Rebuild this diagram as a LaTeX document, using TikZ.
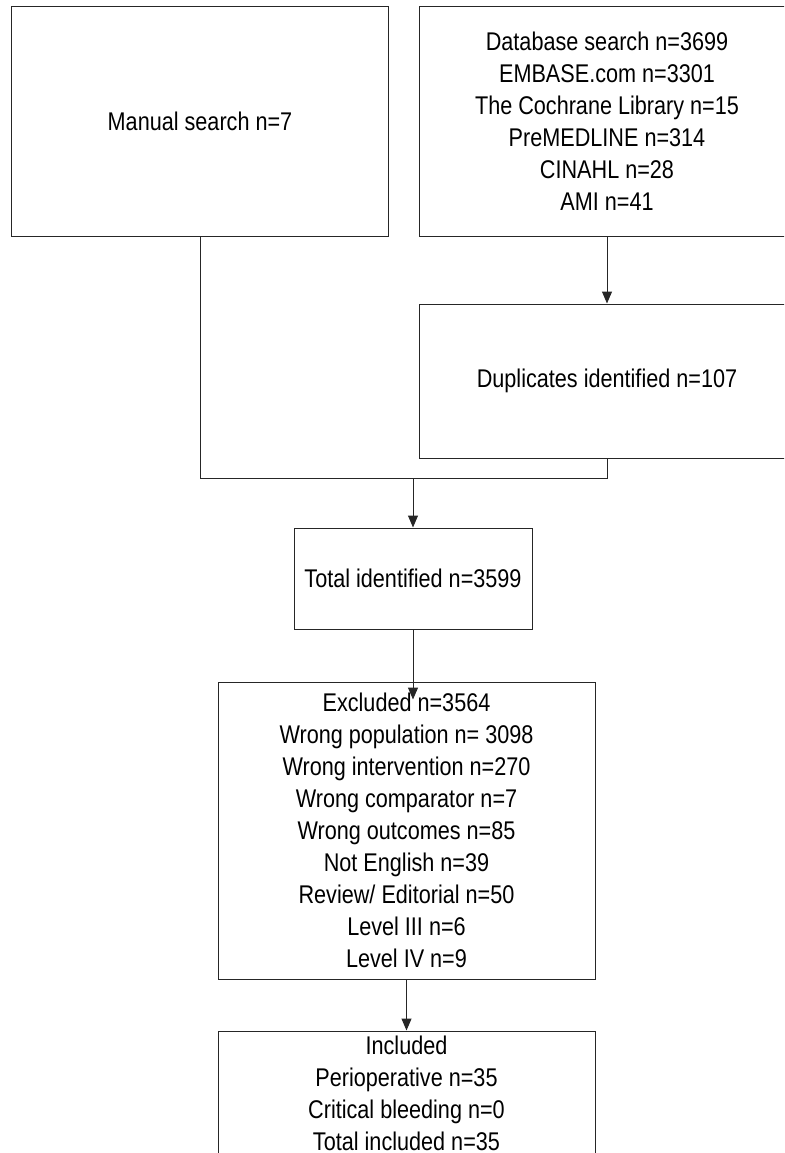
\documentclass[tikz,border=0pt]{standalone}
\usepackage{fontspec}
\setmainfont{Liberation Sans}[FakeStretch=0.845]
\usetikzlibrary{arrows.meta}
\begin{document}
\begin{tikzpicture}[x=1pt,y=-1pt,
  box/.style={draw=black!85, line width=1pt, rectangle, inner sep=0pt, align=center,
    font=\fontsize{25.6}{32}\selectfont},
  conn/.style={draw=black!85, line width=1pt},
  arr/.style={conn, -{Triangle[length=12pt,width=10pt]}}]
\useasboundingbox (0,0) rectangle (784,1153);
\clip (0,0) rectangle (784,1153);
\node[box, minimum width=377pt, minimum height=229pt] (manual) at (200,121.5) {Manual search n=7};
\node[box, minimum width=376pt, minimum height=229pt] (db) at (607,121.5)
  {Database search n=3699\\EMBASE.com n=3301\\The Cochrane Library n=15\\PreMEDLINE n=314\\CINAHL n=28\\AMI n=41};
\node[box, minimum width=376pt, minimum height=154pt] (dup) at (607,381) {Duplicates identified n=107};
\node[box, minimum width=238pt, minimum height=101pt] (total) at (413,578.5) {Total identified n=3599};
\node[box, minimum width=377pt, minimum height=297pt] (excl) at (406.5,830.5)
  {Excluded n=3564\\Wrong population n= 3098\\Wrong intervention n=270\\Wrong comparator n=7\\Wrong outcomes n=85\\Not English n=39\\Review/ Editorial n=50\\Level III n=6\\Level IV n=9};
\node[box, minimum width=377pt, minimum height=124pt] (incl) at (406.5,1093)
  {Included\\Perioperative n=35\\Critical bleeding n=0\\Total included n=35};
\coordinate (jl) at (200,478);
\coordinate (jr) at (607,478);
\draw[arr] (db.south) -- (dup.north);
\draw[conn] (manual.south) -- (jl) -- (jr) -- (dup.south);
\draw[arr] (total.north |- jr) -- (total.north);
\draw[arr, shorten >=-18pt] (total.south) -- (total.south |- excl.north);
\draw[arr] (excl.south) -- (incl.north);
\end{tikzpicture}
\end{document}
